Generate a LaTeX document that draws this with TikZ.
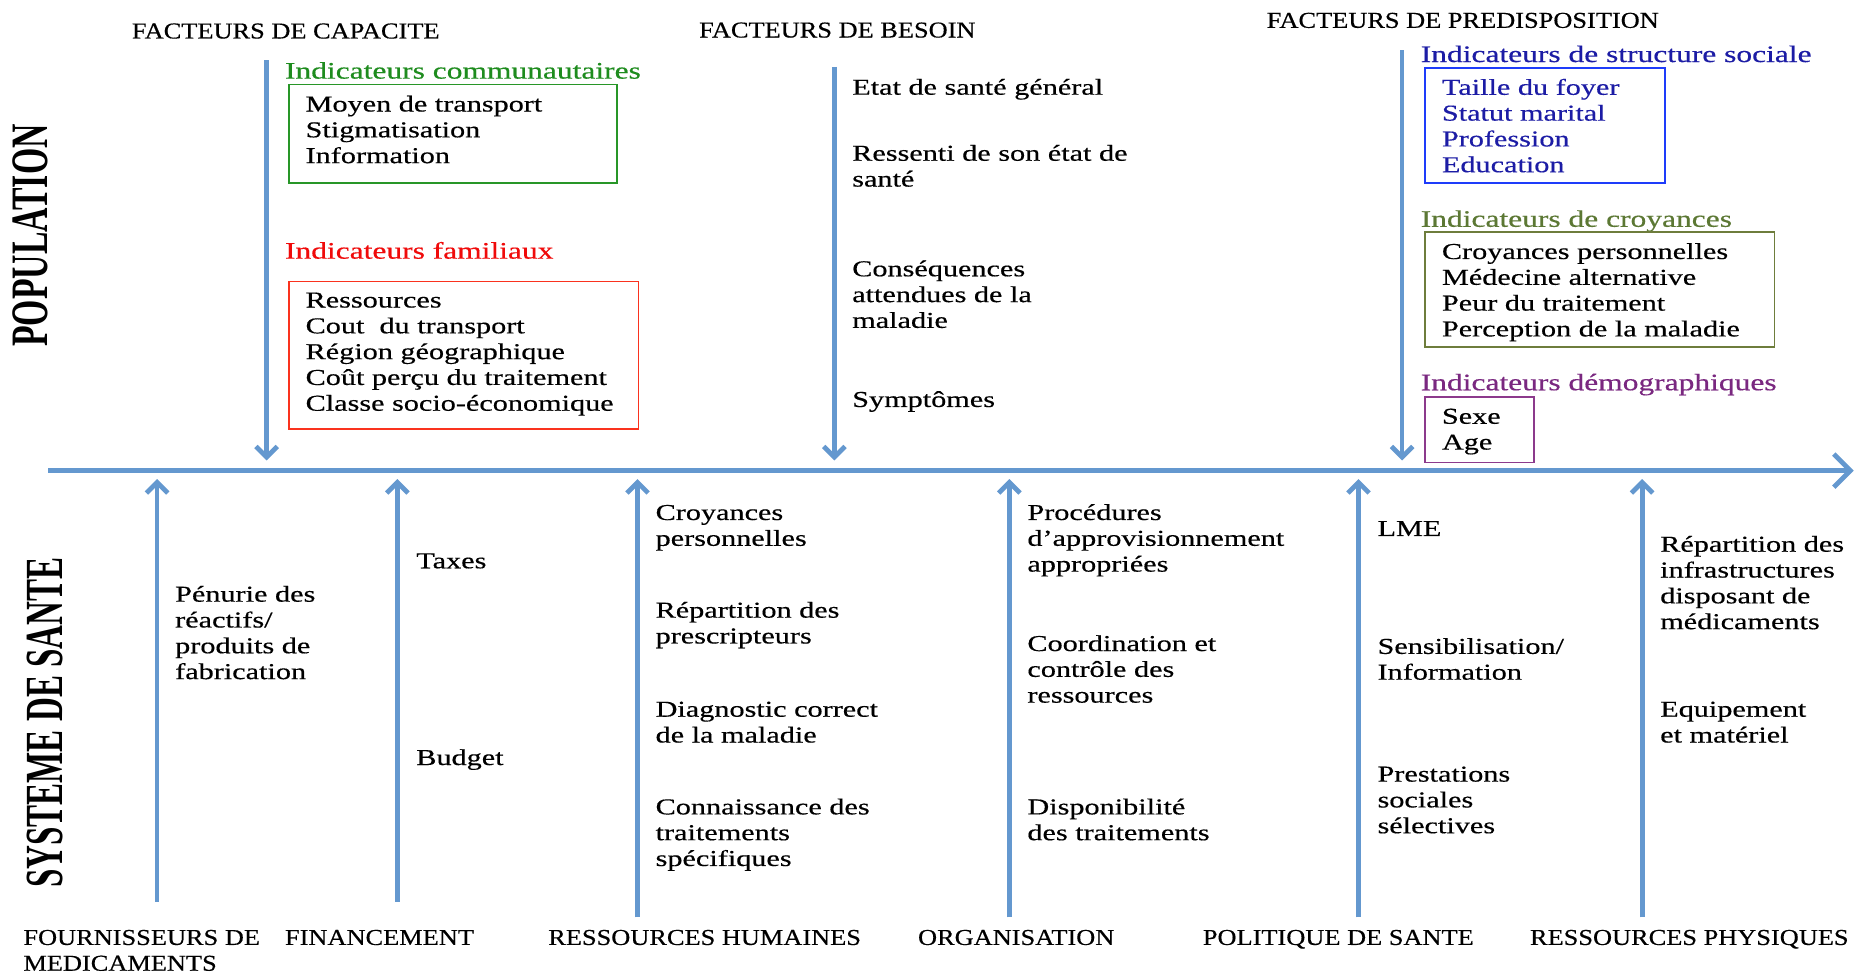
\documentclass[tikz,border=0pt]{standalone}
\usepackage{fontspec}
\usepackage{graphicx}
\setmainfont[FakeStretch=1.33,FakeBold=0.45]{Liberation Serif}
\newfontfamily\capsfont[FakeStretch=1.16,FakeBold=0.45]{Liberation Serif}
\newfontfamily\lblfont{Liberation Serif}
\usetikzlibrary{arrows.meta}
\definecolor{arrowblue}{RGB}{100,152,207}
\definecolor{grn}{RGB}{30,140,30}
\definecolor{grnbox}{RGB}{40,150,40}
\definecolor{redt}{RGB}{240,10,10}
\definecolor{redbox}{RGB}{250,50,30}
\definecolor{navy}{RGB}{28,28,165}
\definecolor{bluebox}{RGB}{30,60,250}
\definecolor{olive}{RGB}{92,120,52}
\definecolor{olivebox}{RGB}{110,125,60}
\definecolor{purp}{RGB}{122,40,128}
\definecolor{purpbox}{RGB}{140,58,140}
\tikzset{
  body/.style={font=\fontsize{19.2}{21.8}\selectfont, inner sep=0pt, anchor=base west, align=left},
  ttl/.style={font=\fontsize{20}{21.8}\selectfont, inner sep=0pt, anchor=base west},
  capt/.style={font=\capsfont\fontsize{19.2}{21.8}\selectfont, inner sep=0pt, anchor=base west, align=left},
  nl/.style={yshift={-(#1-1)*21.8pt}},
  arr/.style={draw=arrowblue, line width=4pt, -{Straight Barb[length=9pt,width=18pt]}},
  axisarr/.style={draw=arrowblue, line width=4pt, -{Straight Barb[length=14pt,width=28pt]}},
  ibox/.style={draw, line width=1.4pt, anchor=north west, inner sep=0pt},
}
\begin{document}
\begin{tikzpicture}[x=1pt,y=-1pt]
\fill[white] (0,0) rectangle (1568,822);
\useasboundingbox (0,0) rectangle (1568,822);

% side labels
\node[rotate=90, inner sep=0pt] (pop) at (26,199) {\resizebox{188pt}{29.4pt}{\lblfont\bfseries POPULATION}};
\node[rotate=90, inner sep=0pt] (sys) at (37.7,610.5) {\resizebox{279pt}{30pt}{\lblfont\bfseries SYSTEME DE SANTE}};

% headers
\node[capt] (hcap) at (111.3,32.5) {FACTEURS DE CAPACITE};
\node[capt] (hbes) at (590.5,31.7) {FACTEURS DE BESOIN};
\node[capt] (hpre) at (1070,23.5) {FACTEURS DE PREDISPOSITION};

% axis
\coordinate (axL) at (40.8,397.6);
\coordinate (axR) at (1566,397.6);
\draw[axisarr] (axL) -- (axR);

% top arrows
\coordinate (capT) at (225.2,51); \coordinate (capB) at (225.2,389);
\coordinate (besT) at (704.9,56.6); \coordinate (besB) at (704.9,389);
\coordinate (preT) at (1184.5,42.4); \coordinate (preB) at (1184.5,389);
\draw[arr] (capT) -- (capB);
\draw[arr] (besT) -- (besB);
\draw[arr] (preT) -- (preB);

% bottom arrows
\coordinate (f1B) at (132.7,761.7); \coordinate (f1T) at (132.7,404.7);
\coordinate (f2B) at (335.7,761.7); \coordinate (f2T) at (335.7,404.7);
\coordinate (f3B) at (538.6,775); \coordinate (f3T) at (538.6,404.7);
\coordinate (f4B) at (852.7,775); \coordinate (f4T) at (852.7,404.7);
\coordinate (f5B) at (1147.7,775); \coordinate (f5T) at (1147.7,404.7);
\coordinate (f6B) at (1387.3,775); \coordinate (f6T) at (1387.3,404.7);
\foreach \i in {1,...,6} {\draw[arr] (f\i B) -- (f\i T);}

% capacity indicators
\node[ttl, text=grn] (tcom) at (240.6,66.4) {Indicateurs communautaires};
\node[ibox, draw=grnbox, minimum width=277pt, minimum height=83pt] (bcom) at (243.3,70.7) {};
\node[body, nl=3] (lcom) at (258,94.2) {Moyen de transport\\Stigmatisation\\Information};

\node[ttl, text=redt] (tfam) at (240.6,218.5) {Indicateurs familiaux};
\node[ibox, draw=redbox, minimum width=295.3pt, minimum height=124.5pt] (bfam) at (243.3,237.1) {};
\node[body, nl=5] (lfam) at (258,259.8) {Ressources\\Cout\ \ du transport\\Région géographique\\Coût perçu du traitement\\Classe socio-économique};

% need factors
\node[body] (n1) at (719.8,80) {Etat de santé général};
\node[body, nl=2] (n2) at (719.8,135.8) {Ressenti de son état de\\santé};
\node[body, nl=3] (n3) at (719.8,233.4) {Conséquences\\attendues de la\\maladie};
\node[body] (n4) at (719.8,343.8) {Symptômes};

% predisposition
\node[ttl, text=navy] (tsoc) at (1200.1,52.4) {Indicateurs de structure sociale};
\node[ibox, draw=bluebox, minimum width=202.9pt, minimum height=97.1pt] (bsoc) at (1203,56.6) {};
\node[body, nl=4, text=navy] (lsoc) at (1218,80.1) {Taille du foyer\\Statut marital\\Profession\\Education};

\node[ttl, text=olive] (tcro) at (1200.1,191.6) {Indicateurs de croyances};
\node[ibox, draw=olivebox, minimum width=295.5pt, minimum height=97pt] (bcro) at (1203,195.3) {};
\node[body, nl=4] (lcro) at (1218,218.8) {Croyances personnelles\\Médecine alternative\\Peur du traitement\\Perception de la maladie};

\node[ttl, text=purp] (tdem) at (1200.1,329.7) {Indicateurs démographiques};
\node[ibox, draw=purpbox, minimum width=92.4pt, minimum height=55.3pt] (bdem) at (1203,334.7) {};
\node[body, nl=2] (ldem) at (1218,358) {Sexe\\Age};

% health system items
\node[body, nl=4] (s1) at (147.8,508.3) {Pénurie des\\réactifs/\\produits de\\fabrication};
\node[body] (s2) at (351.5,480.1) {Taxes};
\node[body] (s3) at (351.5,646.3) {Budget};
\node[body, nl=2] (s4) at (553.7,439.3) {Croyances\\personnelles};
\node[body, nl=2] (s5) at (553.7,521.8) {Répartition des\\prescripteurs};
\node[body, nl=2] (s6) at (553.7,605.5) {Diagnostic correct\\de la maladie};
\node[body, nl=3] (s7) at (553.7,688) {Connaissance des\\traitements\\spécifiques};
\node[body, nl=3] (s8) at (867.8,439.3) {Procédures\\d’approvisionnement\\appropriées};
\node[body, nl=3] (s9) at (867.8,550) {Coordination et\\contrôle des\\ressources};
\node[body, nl=2] (s10) at (867.8,688) {Disponibilité\\des traitements};
\node[body] (s11) at (1163.6,452.8) {LME};
\node[body, nl=2] (s12) at (1163.6,552.4) {Sensibilisation/\\Information};
\node[body, nl=3] (s13) at (1163.6,660.3) {Prestations\\sociales\\sélectives};
\node[body, nl=4] (s14) at (1402.4,466.1) {Répartition des\\infrastructures\\disposant de\\médicaments};
\node[body, nl=2] (s15) at (1402.4,605.5) {Equipement\\et matériel};

% bottom captions
\node[capt, nl=2] (c1) at (19.6,798.3) {FOURNISSEURS DE\\MEDICAMENTS};
\node[capt] (c2) at (240.6,798.3) {FINANCEMENT};
\node[capt] (c3) at (463,798.3) {RESSOURCES HUMAINES};
\node[capt] (c4) at (775.4,798.3) {ORGANISATION};
\node[capt] (c5) at (1016,798.3) {POLITIQUE DE SANTE};
\node[capt] (c6) at (1292.4,798.3) {RESSOURCES PHYSIQUES};
\end{tikzpicture}
\end{document}
